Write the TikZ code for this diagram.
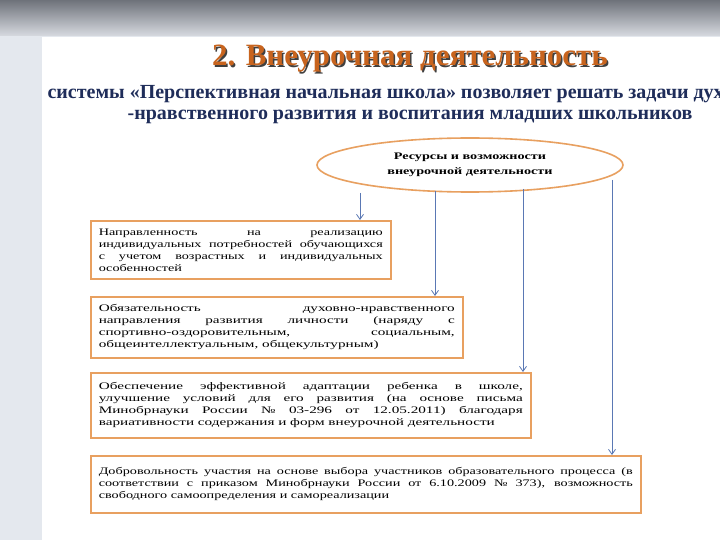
\documentclass[tikz,border=0pt]{standalone}
\usepackage{fontspec}
\setmainfont{Liberation Serif}
\newfontfamily\boxfont[FakeStretch=1.42]{Liberation Serif}
\newfontfamily\boxfontw[FakeStretch=1.52]{Liberation Serif}
\usetikzlibrary{shapes.geometric,arrows.meta,shadows}
\definecolor{navy}{HTML}{1F2D5A}
\definecolor{ttl}{HTML}{C8641E}
\definecolor{obord}{HTML}{E8A060}
\definecolor{arr}{HTML}{5A78B4}
\tikzset{
  infobox/.style={draw=obord,line width=1.6pt,fill=white,drop shadow={shadow xshift=1.5pt,shadow yshift=-1.5pt,opacity=0.3},
    anchor=north west,inner xsep=8pt,inner ysep=4pt,align=justify,font=\boxfont\fontsize{10}{12}\selectfont},
  widebox/.style={infobox,font=\boxfontw\fontsize{10}{12}\selectfont},
  link/.style={draw=arr,line width=0.8pt,-{Straight Barb[length=5pt,width=7pt]}},
  sub/.style={text=navy,font=\bfseries\fontsize{20}{22}\selectfont}
}
\begin{document}
\begin{tikzpicture}[x=1pt,y=-1pt]
\useasboundingbox (0,0) rectangle (720,540);
\fill[color={rgb,255:red,228;green,232;blue,238}] (0,0) rectangle (720,540);
\shade[top color={rgb,255:red,110;green,114;blue,122},bottom color={rgb,255:red,215;green,218;blue,224}] (0,0) rectangle (720,36);
\fill[white] (42,37) rectangle (720,540);
\node (t2) at (411.5,60.5) {\textcolor{black!75}{\bfseries\fontsize{31}{33}\selectfont 2. Внеурочная деятельность}};
\node (t1) at (410,59) {\textcolor{ttl}{\bfseries\fontsize{31}{33}\selectfont 2. Внеурочная деятельность}};
\begin{scope}
\clip (42,37) rectangle (720,540);
\node[sub,anchor=west] (s1) at (44,94) {системы «Перспективная начальная школа» позволяет решать задачи духовно};
\end{scope}
\node[sub] (s2) at (410,117) {-нравственного развития и воспитания младших школьников};
\node[ellipse,draw=obord,line width=1.6pt,fill=white,minimum width=306pt,minimum height=54pt,align=center,
  font=\boxfont\bfseries\fontsize{10}{15}\selectfont] (e) at (470,165) {Ресурсы и возможности\\внеурочной деятельности};
\node[infobox,text width=284pt,minimum height=58pt] (b1) at (90,220) {Направленность на реализацию индивидуальных потребностей обучающихся с учетом возрастных и индивидуальных особенностей};
\node[widebox,text width=356pt,minimum height=61pt] (b2) at (90,296) {Обязательность духовно-нравственного направления развития личности (наряду с спортивно-оздоровительным, социальным, общеинтеллектуальным, общекультурным)};
\node[widebox,text width=424pt,minimum height=65pt] (b3) at (90,372) {Обеспечение эффективной адаптации ребенка в школе, улучшение условий для его развития (на основе письма Минобрнауки России №~03-296 от 12.05.2011) благодаря вариативности содержания и форм внеурочной деятельности};
\node[infobox,text width=534pt,minimum height=57pt] (b4) at (90,455) {Добровольность участия на основе выбора участников образовательного процесса (в соответствии с приказом Минобрнауки России от 6.10.2009 №~373), возможность свободного самоопределения и самореализации};
\draw[link] (e.south -| 360,0) -- (b1.north -| 360,0);
\draw[link] (435,191) -- (b2.north -| 435,0);
\draw[link] (523,189) -- (b3.north -| 523,0);
\draw[link] (612,180) -- (b4.north -| 612,0);
\end{tikzpicture}
\end{document}
